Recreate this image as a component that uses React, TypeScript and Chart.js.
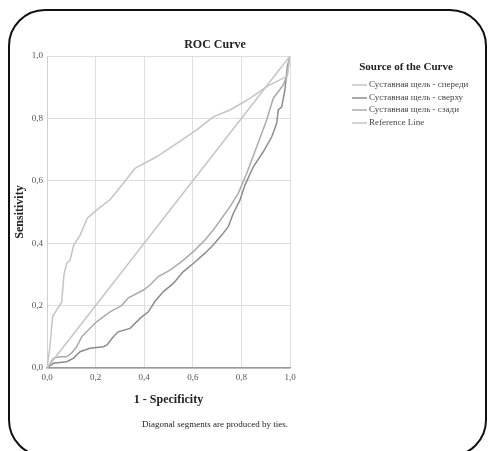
import React, { useEffect, useRef } from "react";
import { Chart, registerables } from "chart.js";

Chart.register(...registerables);

const seriesLabels = [
  "Суставная щель - спереди",
  "Суставная щель - сверху",
  "Суставная щель - сзади",
  "Reference Line",
];

const frontX = [0, 0.012, 0.023, 0.04, 0.06, 0.07, 0.081, 0.095, 0.11, 0.136, 0.166, 0.204, 0.26, 0.314, 0.362, 0.451, 0.534, 0.616, 0.684, 0.753, 0.835, 0.904, 0.972, 0.989, 1];
const frontY = [0, 0.068, 0.165, 0.186, 0.21, 0.3, 0.335, 0.346, 0.394, 0.426, 0.48, 0.506, 0.54, 0.592, 0.64, 0.677, 0.72, 0.763, 0.805, 0.827, 0.864, 0.902, 0.929, 0.934, 1];

const topX = [0, 0.026, 0.081, 0.108, 0.136, 0.177, 0.232, 0.246, 0.273, 0.293, 0.342, 0.383, 0.417, 0.444, 0.479, 0.52, 0.561, 0.602, 0.65, 0.684, 0.719, 0.746, 0.767, 0.794, 0.815, 0.849, 0.89, 0.925, 0.945, 0.952, 0.966, 0.979, 0.989, 1];
const topY = [0, 0.015, 0.02, 0.031, 0.052, 0.063, 0.068, 0.073, 0.1, 0.116, 0.127, 0.159, 0.18, 0.213, 0.245, 0.271, 0.309, 0.335, 0.368, 0.394, 0.426, 0.453, 0.496, 0.538, 0.587, 0.645, 0.693, 0.741, 0.784, 0.827, 0.837, 0.891, 0.966, 1];

const backX = [0, 0.026, 0.053, 0.08, 0.1, 0.122, 0.143, 0.17, 0.204, 0.259, 0.307, 0.335, 0.397, 0.424, 0.458, 0.506, 0.554, 0.602, 0.65, 0.684, 0.719, 0.753, 0.787, 0.822, 0.863, 0.904, 0.931, 0.972, 0.986, 1];
const backY = [0, 0.031, 0.036, 0.036, 0.047, 0.068, 0.1, 0.122, 0.148, 0.18, 0.2, 0.225, 0.25, 0.266, 0.293, 0.314, 0.341, 0.373, 0.41, 0.442, 0.48, 0.517, 0.56, 0.624, 0.709, 0.795, 0.864, 0.907, 0.934, 1];

const refX = [0, 1];
const refY = [0, 1];

const tickValues = [0, 0.2, 0.4, 0.6, 0.8, 1.0];
const tickLabels = ["0,0", "0,2", "0,4", "0,6", "0,8", "1,0"];

const colors = ["#c4c4c4", "#8c8c8c", "#ababab", "#c4c4c4"];

const FONT = "'Liberation Serif', 'Times New Roman', serif";

const zip = (xs: number[], ys: number[]) => xs.map((x, i) => ({ x, y: ys[i] }));

export default function App() {
  const ref = useRef<HTMLCanvasElement | null>(null);
  useEffect(() => {
    document.body.style.margin = "0";
    const canvas = ref.current!;
    const decor = {
      id: "decor",
      beforeDraw(chart: any) {
        const ctx = chart.ctx;
        ctx.save();
        ctx.fillStyle = "#ffffff";
        ctx.fillRect(0, 0, chart.width, chart.height);
        ctx.restore();
      },
      afterDraw(chart: any) {
        const ctx = chart.ctx;
        const area = chart.chartArea;
        ctx.save();
        // frame
        ctx.strokeStyle = "#111";
        ctx.lineWidth = 2;
        const l = 9, t = 10, r = 486, b = 456, rad = 36;
        ctx.beginPath();
        ctx.moveTo(l + rad, t);
        ctx.lineTo(r - rad, t);
        ctx.arcTo(r, t, r, t + rad, rad);
        ctx.lineTo(r, b - rad);
        ctx.arcTo(r, b, r - rad, b, rad);
        ctx.lineTo(l + rad, b);
        ctx.arcTo(l, b, l, b - rad, rad);
        ctx.lineTo(l, t + rad);
        ctx.arcTo(l, t, l + rad, t, rad);
        ctx.closePath();
        ctx.stroke();

        ctx.fillStyle = "#222";
        ctx.textBaseline = "middle";
        // title
        ctx.font = `bold 12px ${FONT}`;
        ctx.textAlign = "center";
        ctx.fillText("ROC Curve", 215, 45);
        // axis titles
        ctx.font = `bold 12px ${FONT}`;
        ctx.fillText("1 - Specificity", (area.left + area.right) / 2, 400);
        ctx.save();
        ctx.translate(20, (area.top + area.bottom) / 2);
        ctx.rotate(-Math.PI / 2);
        ctx.fillText("Sensitivity", 0, 0);
        ctx.restore();
        // footnote
        ctx.font = `9px ${FONT}`;
        ctx.fillText("Diagonal segments are produced by ties.", 215, 425);
        // legend
        ctx.font = `bold 11px ${FONT}`;
        ctx.fillText("Source of the Curve", 406, 67);
        ctx.font = `9px ${FONT}`;
        ctx.textAlign = "left";
        const ys = [85, 98, 110, 123];
        seriesLabels.forEach((lab, i) => {
          ctx.strokeStyle = colors[i];
          ctx.lineWidth = 1.5;
          ctx.beginPath();
          ctx.moveTo(352, ys[i]);
          ctx.lineTo(367, ys[i]);
          ctx.stroke();
          ctx.fillStyle = "#444";
          ctx.fillText(lab, 369, ys[i]);
        });
        ctx.restore();
      },
    };
    const mk = (i: number, xs: number[], ys: number[]) => ({
      label: seriesLabels[i],
      data: zip(xs, ys),
      borderColor: colors[i],
      borderWidth: 1.5,
      pointRadius: 0,
      fill: false,
      tension: 0,
    });
    const chart = new Chart(canvas, {
      type: "line",
      data: {
        datasets: [
          mk(3, refX, refY),
          mk(0, frontX, frontY),
          mk(2, backX, backY),
          mk(1, topX, topY),
        ],
      },
      options: {
        animation: false,
        responsive: false,
        maintainAspectRatio: false,
        layout: { padding: { left: 0, right: 198, top: 56, bottom: 0 } },
        plugins: { legend: { display: false }, tooltip: { enabled: false }, title: { display: false } },
        scales: {
          x: {
            type: "linear",
            min: 0,
            max: 1,
            afterFit: (s: any) => { s.height = 83; },
            afterBuildTicks: (s: any) => { s.ticks = tickValues.map((v) => ({ value: v })); },
            ticks: {
              padding: 4,
              color: "#555",
              font: { family: FONT, size: 9 },
              callback: (v: any) => tickLabels[tickValues.findIndex((t) => Math.abs(t - v) < 1e-6)],
            },
            grid: { color: "#dedede", drawTicks: false, lineWidth: 1 },
            border: { color: "#9a9a9a", width: 1.5 },
          },
          y: {
            type: "linear",
            min: 0,
            max: 1,
            afterFit: (s: any) => { s.width = 47; },
            afterBuildTicks: (s: any) => { s.ticks = tickValues.map((v) => ({ value: v })); },
            ticks: {
              padding: 4,
              color: "#555",
              font: { family: FONT, size: 9 },
              callback: (v: any) => tickLabels[tickValues.findIndex((t) => Math.abs(t - v) < 1e-6)],
            },
            grid: { color: "#dedede", drawTicks: false, lineWidth: 1 },
            border: { color: "#cfcfcf", width: 1 },
          },
        },
      },
      plugins: [decor],
    } as any);
    return () => chart.destroy();
  }, []);
  return (
    <div style={{ width: 488, height: 451 }}>
      <canvas ref={ref} width={488} height={451} style={{ display: "block", width: 488, height: 451 }} />
    </div>
  );
}
